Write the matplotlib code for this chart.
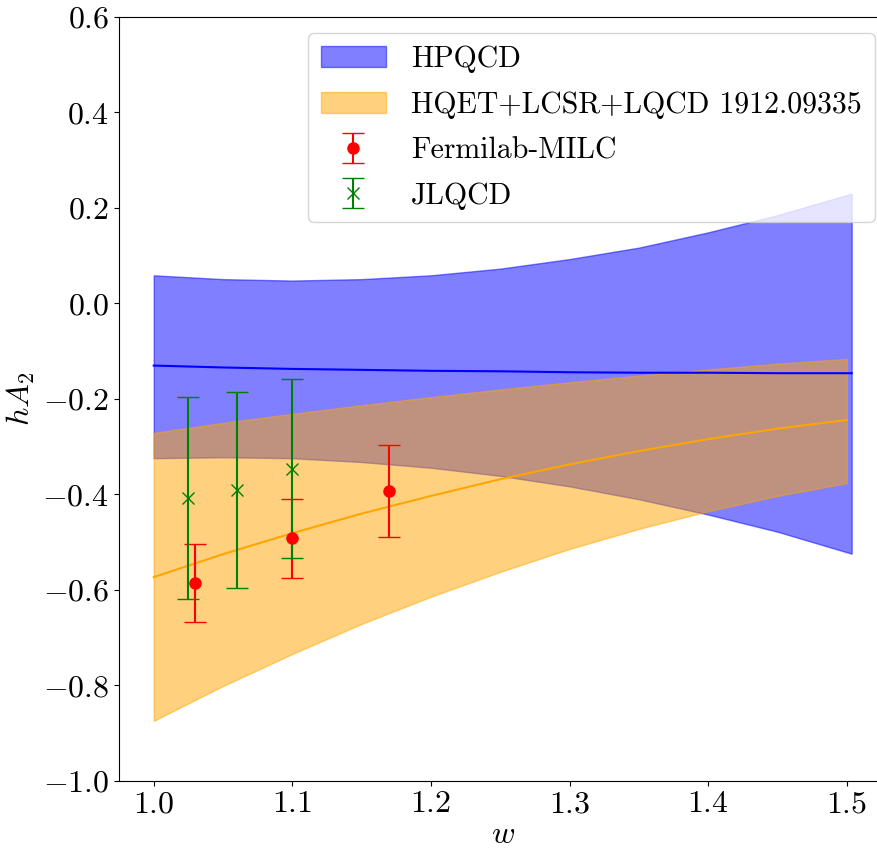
import numpy as np
import matplotlib
matplotlib.use("Agg")
import matplotlib.pyplot as plt
from matplotlib.patches import Patch

plt.rcParams['font.family'] = 'serif'
plt.rcParams['font.serif'] = ['cmr10']
plt.rcParams['mathtext.fontset'] = 'cm'
plt.rcParams['axes.formatter.use_mathtext'] = True
plt.rcParams['axes.unicode_minus'] = True

# HPQCD band (w up to w_max)
w_hpqcd = [1.00, 1.05, 1.10, 1.15, 1.20, 1.25, 1.30, 1.35, 1.40, 1.45, 1.5035]
hpqcd_hi = [0.059, 0.051, 0.048, 0.051, 0.059, 0.073, 0.093, 0.117, 0.149, 0.185, 0.230]
hpqcd_lo = [-0.324, -0.322, -0.324, -0.332, -0.344, -0.361, -0.383, -0.410, -0.442, -0.478, -0.524]
hpqcd_mid = [-0.130, -0.134, -0.137, -0.139, -0.141, -0.142, -0.144, -0.145, -0.145, -0.146, -0.146]

# HQET+LCSR+LQCD band
w_hqet = [1.00, 1.05, 1.10, 1.15, 1.20, 1.25, 1.30, 1.35, 1.40, 1.45, 1.50]
hqet_hi = [-0.271, -0.250, -0.231, -0.213, -0.196, -0.180, -0.165, -0.151, -0.138, -0.126, -0.116]
hqet_lo = [-0.874, -0.801, -0.734, -0.671, -0.614, -0.562, -0.514, -0.472, -0.435, -0.403, -0.376]
hqet_mid = [-0.573, -0.525, -0.481, -0.440, -0.403, -0.368, -0.337, -0.309, -0.284, -0.262, -0.244]

# lattice points
w_fnal = [1.03, 1.10, 1.17]
fnal = [-0.585, -0.492, -0.392]
fnal_err = [0.081, 0.082, 0.096]

w_jlqcd = [1.025, 1.06, 1.10]
jlqcd = [-0.407, -0.390, -0.346]
jlqcd_err = [0.211, 0.205, 0.188]

fs = 23
fig = plt.figure(figsize=(8.77, 8.49), dpi=100)
ax = fig.add_axes([0.1355, 0.0801, 0.8754, 0.8999])

ax.fill_between(w_hpqcd, hpqcd_lo, hpqcd_hi, color='blue', alpha=0.5)
ax.plot(w_hpqcd, hpqcd_mid, color='blue', lw=1.5)
ax.fill_between(w_hqet, hqet_lo, hqet_hi, color='orange', alpha=0.5)
ax.plot(w_hqet, hqet_mid, color='orange', lw=1.5)

eb1 = ax.errorbar(w_fnal, fnal, yerr=fnal_err, fmt='o', color='red',
                  capsize=8, markersize=8)
eb2 = ax.errorbar(w_jlqcd, jlqcd, yerr=jlqcd_err, fmt='x', color='green',
                  capsize=8, markersize=8)

ax.set_ylim(-1.0, 0.6)
ax.set_xlabel(r'$w$', fontsize=fs, labelpad=2.5)
ax.set_ylabel(r'$hA_2$', fontsize=fs)
ax.tick_params(labelsize=fs)

handles = [Patch(facecolor='blue', edgecolor='blue', alpha=0.5),
           Patch(facecolor='orange', edgecolor='orange', alpha=0.5),
           eb1, eb2]
labels = ['HPQCD', 'HQET+LCSR+LQCD 1912.09335', 'Fermilab-MILC', 'JLQCD']
ax.legend(handles, labels, fontsize=21.5, loc='upper left',
          bbox_to_anchor=(0.246, 0.979), borderaxespad=0,
          handlelength=2.18, borderpad=0.43, handletextpad=0.86,
          labelspacing=0.6)

fig.savefig('out.png', dpi=100)
